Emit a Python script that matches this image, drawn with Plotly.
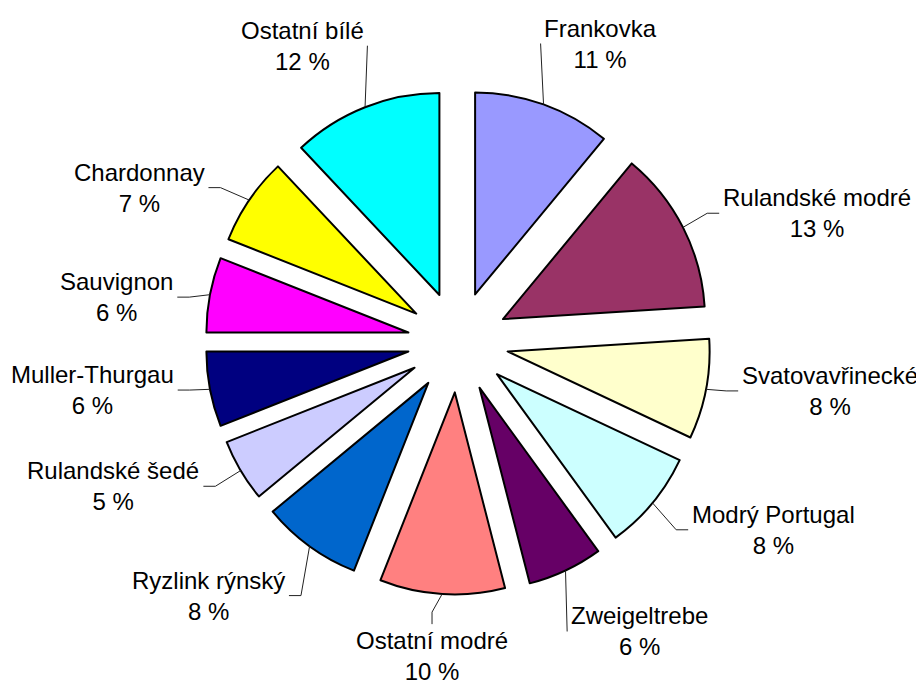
import math
import plotly.graph_objects as go

labels = ["Frankovka", "Rulandské modré", "Svatovavřinecké", "Modrý Portugal",
          "Zweigeltrebe", "Ostatní modré", "Ryzlink rýnský", "Rulandské šedé",
          "Muller-Thurgau", "Sauvignon", "Chardonnay", "Ostatní bílé"]
shares = [11, 13, 8, 8, 6, 10, 8, 5, 6, 6, 7, 12]
colors = ["#9999FF", "#993366", "#FFFFCC", "#CCFFFF", "#660066", "#FF8080",
          "#0066CC", "#CCCCFF", "#000080", "#FF00FF", "#FFFF00", "#00FFFF"]

W, H = 924, 682
CX, CY = 450, 334      # pie centre in px
R = 202                # slice radius in px
PULL = 0.25
FONT = 24
LABEL_GAP = 285        # distance from centre to the near edge of a label
SPREAD = math.radians(9)   # nudge labels towards the sides, like Excel does

# rough Arial advance widths (em) for measuring label boxes
char_w = {"i": .222, "l": .222, "í": .278, "t": .278, "f": .278, "r": .333,
          "ř": .333, "-": .333, " ": .278, "c": .5, "k": .5, "s": .5, "š": .5,
          "v": .5, "y": .5, "ý": .5, "z": .5, "w": .722, "m": .833, "M": .833,
          "O": .778, "C": .722, "R": .722, "S": .667, "P": .667, "F": .611,
          "T": .611, "Z": .611, "%": .889}


def text_w(s):
    return sum(char_w.get(ch, .556) for ch in s) * FONT


def px(x, y):
    return x / W, 1 - y / H


fig = go.Figure(go.Pie(
    labels=labels,
    values=shares,
    sort=False,
    direction="clockwise",
    rotation=0,
    pull=PULL,
    marker=dict(colors=colors, line=dict(color="black", width=2)),
    textinfo="none",
    hoverinfo="label+percent",
    showlegend=False,
    domain=dict(x=[(CX - R * (1 + PULL)) / W, (CX + R * (1 + PULL)) / W],
                y=[1 - (CY + R * (1 + PULL)) / H, 1 - (CY - R * (1 + PULL)) / H]),
))

total = sum(shares)
cum = 0
for lab, val in zip(labels, shares):
    mid = (cum + val / 2) / total * 2 * math.pi
    cum += val
    ux, uy = math.sin(mid), -math.cos(mid)
    lang = mid + SPREAD * math.sin(2 * mid)
    vx, vy = math.sin(lang), -math.cos(lang)
    txt = f"{lab}<br>{val} %"
    w = max(text_w(lab), text_w(f"{val} %"))
    h = 48
    ext = abs(vx) * w / 2 + abs(vy) * h / 2
    lx, ly = CX + (LABEL_GAP + ext) * vx, CY + (LABEL_GAP + ext) * vy
    ax, ay = px(lx, ly)
    fig.add_annotation(x=ax, y=ay, xref="paper", yref="paper", text=txt,
                       showarrow=False, xanchor="center", yanchor="middle",
                       align="center",
                       font=dict(family="Liberation Sans, Arial, sans-serif",
                                 size=FONT, color="black"))

    # leader line from the slice edge to the label
    p0x, p0y = CX + R * (1 + PULL) * ux, CY + R * (1 + PULL) * uy
    if abs(vx) >= 0.25:
        sg = 1 if vx > 0 else -1
        sx, sy = lx - sg * (w / 2 + 4), ly
        ex, ey = sx - sg * 12, sy
        if sg * (ex - p0x) < 0:
            ex, ey = sx, sy
    else:
        sg = 1 if vy > 0 else -1
        sx, sy = lx, ly - sg * (h / 2 + 8)
        ex, ey = sx, sy - sg * 12
    pts = [px(p0x, p0y), px(ex, ey), px(sx, sy)]
    path = "M " + " L ".join(f"{x:.5f},{y:.5f}" for x, y in pts)
    fig.add_shape(type="path", path=path, xref="paper", yref="paper",
                  line=dict(color="#222222", width=1))

fig.update_layout(
    width=W, height=H,
    margin=dict(l=0, r=0, t=0, b=0),
    paper_bgcolor="white",
    plot_bgcolor="white",
)

fig.write_html("out.html")
